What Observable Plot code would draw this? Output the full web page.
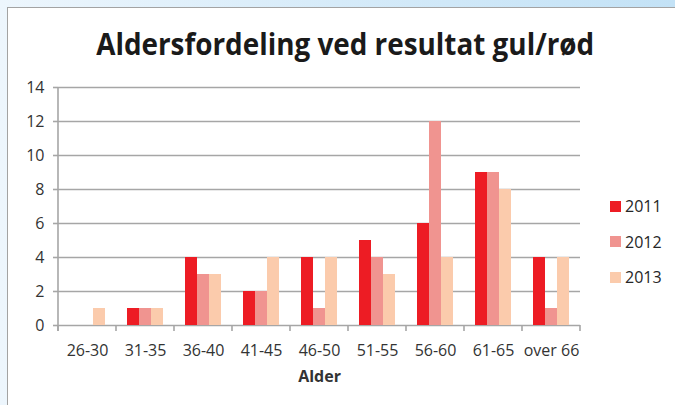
<!DOCTYPE html>
<html>
<head>
<meta charset="utf-8">
<script src="https://cdn.jsdelivr.net/npm/d3@7"></script>
<script src="https://cdn.jsdelivr.net/npm/@observablehq/plot@0.6"></script>
<style>
  html, body { margin: 0; padding: 0; }
  body {
    width: 675px; height: 405px; overflow: hidden; position: relative;
    background: linear-gradient(to right, #edf6fd 0%, #d6ebf9 50%, #c3e2f6 100%);
    font-family: "Open Sans", sans-serif;
  }
  #box {
    position: absolute; left: 7px; top: 7px; width: 720px; height: 440px;
    background: #fff; border: 1.5px solid #a3a3a3; box-sizing: border-box;
  }
  #title {
    position: absolute; left: 0; top: 22px; width: 690px; text-align: center;
    font: bold 31px "Open Sans", sans-serif; color: #1a1a1a; white-space: nowrap;
  }
  #title span { display: inline-block; transform-origin: center; }
  #chart { position: absolute; left: 0; top: 70px; }
  #legend { position: absolute; left: 610px; top: 196px; font: 16px "Open Sans", sans-serif; color: #262626; }
  #legend .row { display: flex; align-items: center; height: 20px; margin-bottom: 15.5px; }
  #legend .sw { width: 11px; height: 11px; margin-right: 4px; }
  #chart g[aria-label="fx-axis label"] text { font-weight: bold; }
</style>
</head>
<body>
<div id="box"></div>
<div id="title"><span>Aldersfordeling ved resultat gul/rød</span></div>
<div id="chart"></div>
<div id="legend"></div>
<script>
const categories = ["26-30", "31-35", "36-40", "41-45", "46-50", "51-55", "56-60", "61-65", "over 66"];
const years = ["2011", "2012", "2013"];
const values2011 = [0, 1, 4, 2, 4, 5, 6, 9, 4];
const values2012 = [0, 1, 3, 2, 1, 4, 12, 9, 1];
const values2013 = [1, 1, 3, 4, 4, 3, 4, 8, 4];
const yTicks = [0, 2, 4, 6, 8, 10, 12, 14];
const colors = ["#ed1c24", "#f09490", "#fbcbac"];

const series = [values2011, values2012, values2013];
const data = [];
categories.forEach((c, i) => years.forEach((yr, j) => data.push({cat: c, year: yr, value: series[j][i]})));

const gray = "#a6a6a6";
const chart = Plot.plot({
  width: 675,
  height: 335,
  marginLeft: 57,
  marginRight: 94,
  marginTop: 17,
  marginBottom: 80,
  style: {fontFamily: "Open Sans, sans-serif", fontSize: "16px", color: "#333", background: "transparent", overflow: "visible"},
  fx: {domain: categories, padding: 0},
  x: {domain: years, paddingInner: 0, paddingOuter: 0.75, axis: null},
  y: {domain: [0, 14]},
  color: {domain: years, range: colors},
  marks: [
    Plot.gridY(yTicks, {stroke: gray, strokeOpacity: 1, strokeWidth: 1.6}),
    Plot.barY(data, {fx: "cat", x: "year", y: "value", fill: "year"}),
    Plot.axisY(yTicks, {tickSize: 5, tickPadding: 9, stroke: gray, strokeWidth: 1.6, label: null, fill: "#333", fontSize: 16}),
    Plot.axisFx({anchor: "bottom", tickSize: 0, tickPadding: 19, fontSize: 16, fill: "#333", label: "Alder", labelAnchor: "center", labelOffset: 56})
  ]
});
document.getElementById("chart").appendChild(chart);

// axis line and category-boundary ticks through the library's scales
const fx = chart.scale("fx");
const y = chart.scale("y");
const bounds = categories.map(c => fx.apply(c));
bounds.push(fx.apply(categories[categories.length - 1]) + fx.bandwidth);
const g = d3.select(chart).append("g").attr("stroke", gray).attr("stroke-width", 1.6);
g.append("line").attr("x1", bounds[0]).attr("x2", bounds[0]).attr("y1", y.apply(14)).attr("y2", y.apply(0) + 6);
g.selectAll("line.t").data(bounds).join("line").attr("class", "t")
  .attr("x1", d => d).attr("x2", d => d).attr("y1", y.apply(0)).attr("y2", y.apply(0) + 6);

// legend
const legend = d3.select("#legend");
years.forEach((yr, i) => {
  const row = legend.append("div").attr("class", "row");
  row.append("div").attr("class", "sw").style("background", colors[i]);
  row.append("span").text(yr);
});

// title: condensed to the reference width
const span = document.querySelector("#title span");
const w = span.getBoundingClientRect().width;
span.style.transform = `scaleX(${498 / w})`;
</script>
</body>
</html>
